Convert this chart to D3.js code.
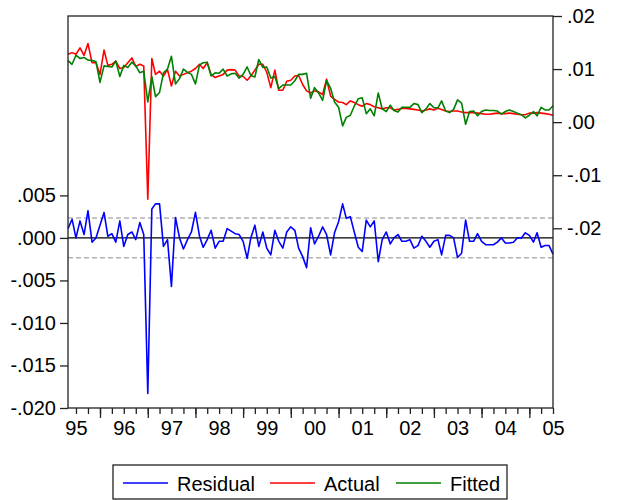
<!DOCTYPE html>
<html><head><meta charset="utf-8">
<script src="https://cdn.jsdelivr.net/npm/d3@7"></script>
<style>
body{margin:0;background:#fff}
svg{display:block}
text{font-family:"Liberation Sans",Arial,sans-serif;fill:#000}
</style>
</head><body>
<svg id="c" width="621" height="500"></svg>
<script>
// ---- data ----
const firstMonth = "1995-05";   // monthly observations
const lastMonth  = "2005-07";
const yearLabels = ["95","96","97","98","99","00","01","02","03","04","05"];
const leftTicks  = [-0.020,-0.015,-0.010,-0.005,0.000,0.005];
const rightTicks = [-0.02,-0.01,0.00,0.01,0.02];
const seriesNames = ["Residual","Actual","Fitted"];
const seriesColors = ["#0000ff","#ff0000","#008000"];
const residualBand = 0.00234; // +/- 1 s.e.

const actual = [
 0.0128,0.0131,0.0128,0.0140,0.0126,0.0148,0.0112,0.0112,0.0090,0.0136,
 0.0107,0.0109,0.0115,0.0101,0.0103,0.0112,0.0121,0.0105,0.0109,0.0106,
 -0.0145,0.0120,0.0090,0.0096,0.0087,0.0099,0.0068,0.0096,0.0087,0.0090,
 0.0093,0.0096,0.0101,0.0109,0.0101,0.0112,0.0090,0.0084,0.0087,0.0090,
 0.0098,0.0099,0.0098,0.0087,0.0086,0.0079,0.0087,0.0098,0.0109,0.0109,
 0.0094,0.0065,0.0098,0.0060,0.0060,0.0077,0.0079,0.0087,0.0088,0.0071,
 0.0059,0.0055,0.0059,0.0057,0.0052,0.0081,0.0049,0.0043,0.0038,0.0037,
 0.0033,0.0040,0.0037,0.0033,0.0030,0.0035,0.0033,0.0029,0.0027,0.0025,
 0.0027,0.0027,0.0023,0.0024,0.0026,0.0026,0.0025,0.0024,0.0023,0.0021,
 0.0023,0.0025,0.0023,0.0026,0.0024,0.0021,0.0020,0.0021,0.0021,0.0019,
 0.0018,0.0018,0.0018,0.0017,0.0016,0.0015,0.0015,0.0016,0.0017,0.0016,
 0.0016,0.0017,0.0016,0.0015,0.0014,0.0014,0.0017,0.0017,0.0018,0.0017,
 0.0016,0.0015,0.0013];

const fitted = [
 0.0116,0.0109,0.0126,0.0120,0.0122,0.0117,0.0116,0.0114,0.0075,0.0106,
 0.0105,0.0104,0.0115,0.0086,0.0107,0.0103,0.0113,0.0106,0.0093,0.0096,
 0.0038,0.0086,0.0048,0.0056,0.0093,0.0100,0.0124,0.0072,0.0082,0.0100,
 0.0094,0.0090,0.0072,0.0108,0.0112,0.0113,0.0087,0.0093,0.0092,0.0100,
 0.0087,0.0091,0.0092,0.0083,0.0090,0.0104,0.0088,0.0085,0.0118,0.0103,
 0.0104,0.0083,0.0086,0.0063,0.0070,0.0070,0.0070,0.0078,0.0090,0.0090,
 0.0092,0.0045,0.0065,0.0055,0.0041,0.0078,0.0064,0.0038,0.0028,-0.0007,
 0.0009,0.0013,0.0030,0.0044,0.0046,0.0016,0.0025,0.0012,0.0055,0.0025,
 0.0020,0.0032,0.0022,0.0019,0.0028,0.0028,0.0028,0.0035,0.0033,0.0018,
 0.0025,0.0035,0.0027,0.0027,0.0040,0.0021,0.0018,0.0024,0.0042,0.0036,
 -0.0004,0.0020,0.0021,0.0012,0.0020,0.0023,0.0022,0.0022,0.0021,0.0015,
 0.0020,0.0023,0.0020,0.0017,0.0014,0.0008,0.0013,0.0020,0.0012,0.0028,
 0.0023,0.0023,0.0031];

const residual = [
 0.0011,0.0022,0.0000,0.0020,0.0004,0.0032,-0.0005,0.0000,0.0015,0.0030,
 0.0002,0.0005,-0.0005,0.0020,-0.0010,0.0004,0.0007,-0.0002,0.0018,0.0004,
 -0.0183,0.0034,0.0040,0.0040,-0.0010,-0.0002,-0.0057,0.0024,0.0000,-0.0013,
 -0.0002,0.0007,0.0030,0.0002,-0.0011,-0.0002,0.0009,-0.0012,-0.0004,-0.0004,
 0.0011,0.0008,0.0005,0.0004,-0.0004,-0.0024,0.0000,0.0015,-0.0010,0.0007,
 -0.0012,-0.0020,0.0009,-0.0004,-0.0012,0.0007,0.0013,0.0009,-0.0012,-0.0022,
 -0.0035,0.0012,-0.0007,0.0002,0.0013,0.0004,-0.0020,0.0006,0.0019,0.0040,
 0.0023,0.0025,0.0007,-0.0011,-0.0016,0.0021,0.0013,0.0020,-0.0028,-0.0002,
 0.0007,-0.0007,0.0000,0.0004,-0.0004,-0.0004,-0.0002,-0.0012,-0.0009,0.0002,
 -0.0004,-0.0011,-0.0004,-0.0002,-0.0020,0.0003,0.0003,0.0000,-0.0023,-0.0018,
 0.0021,-0.0004,-0.0004,0.0005,-0.0004,-0.0008,-0.0008,-0.0008,-0.0005,0.0000,
 -0.0006,-0.0006,-0.0005,0.0000,0.0000,0.0006,0.0003,-0.0005,0.0006,-0.0011,
 -0.0009,-0.0009,-0.0019];

// ---- chart ----
const svg = d3.select("#c");
svg.append("rect").attr("width",621).attr("height",500).attr("fill","#fff");

const L = 68, R = 553, T = 16, B = 408;
const parseM = d3.timeParse("%Y-%m");
const months = d3.timeMonths(parseM(firstMonth), d3.timeMonth.offset(parseM(lastMonth),1));

const x = d3.scaleTime().domain([months[0], months[months.length-1]]).range([L, R]);
const yL = d3.scaleLinear().domain([-0.020, 0.005]).range([B, 195.4]);
const yR = d3.scaleLinear().domain([-0.02, 0.02]).range([228.3, T]);

const fmtL = v => { const s = Math.abs(v).toFixed(3).replace(/^0/,""); return (v < -1e-9 ? "-" : "") + s; };
const fmtR = v => { const s = Math.abs(v).toFixed(2).replace(/^0/,""); return (v < -1e-9 ? "-" : "") + s; };

// residual band lines
[residualBand, -residualBand].forEach(v => {
  svg.append("line").attr("x1",L).attr("x2",R).attr("y1",yL(v)).attr("y2",yL(v))
    .attr("stroke","#8c8c8c").attr("stroke-width",1).attr("stroke-dasharray","5,3");
});
// zero line
svg.append("line").attr("x1",L).attr("x2",R).attr("y1",yL(0)).attr("y2",yL(0))
  .attr("stroke","#000").attr("stroke-width",1.4);

const lineL = d3.line().x((d,i)=>x(months[i])).y(d=>yL(d));
const lineR = d3.line().x((d,i)=>x(months[i])).y(d=>yR(d));

svg.append("path").datum(actual).attr("d",lineR).attr("fill","none")
  .attr("stroke",seriesColors[1]).attr("stroke-width",1.6).attr("stroke-linejoin","round");
svg.append("path").datum(fitted).attr("d",lineR).attr("fill","none")
  .attr("stroke",seriesColors[2]).attr("stroke-width",1.6).attr("stroke-linejoin","round");
svg.append("path").datum(residual).attr("d",lineL).attr("fill","none")
  .attr("stroke",seriesColors[0]).attr("stroke-width",1.6).attr("stroke-linejoin","round");

// frame
svg.append("rect").attr("x",L).attr("y",T).attr("width",R-L).attr("height",B-T)
  .attr("fill","none").attr("stroke","#222").attr("stroke-width",1.3);

// left axis
const gL = svg.append("g").attr("transform",`translate(${L},0)`)
  .call(d3.axisLeft(yL).tickValues(leftTicks).tickFormat(fmtL).tickSize(8).tickPadding(4));
gL.select(".domain").remove();
gL.selectAll("line").attr("stroke","#222").attr("stroke-width",1.3);
gL.selectAll("text").attr("font-size",20).attr("font-family","Liberation Sans, Arial, sans-serif");

// right axis
const gR = svg.append("g").attr("transform",`translate(${R},0)`)
  .call(d3.axisRight(yR).tickValues(rightTicks).tickFormat(fmtR).tickSize(9).tickPadding(5));
gR.select(".domain").remove();
gR.selectAll("line").attr("stroke","#222").attr("stroke-width",1.3);
gR.selectAll("text").attr("font-size",20).attr("font-family","Liberation Sans, Arial, sans-serif");

// bottom axis: quarter ticks, year ticks, year labels
const quarters = months.filter(m => m.getMonth() % 3 === 0);
const jans = months.filter(m => m.getMonth() === 0);
const julys = months.filter(m => m.getMonth() === 6);

const gQ = svg.append("g").attr("transform",`translate(0,${B})`)
  .call(d3.axisBottom(x).tickValues(quarters).tickFormat("").tickSize(6));
gQ.select(".domain").remove();
gQ.selectAll("line").attr("stroke","#222").attr("stroke-width",1.3);

const gJ = svg.append("g").attr("transform",`translate(0,${B})`)
  .call(d3.axisBottom(x).tickValues(jans).tickFormat("").tickSize(10));
gJ.select(".domain").remove();
gJ.selectAll("line").attr("stroke","#222").attr("stroke-width",1.3);

const gY = svg.append("g").attr("transform",`translate(0,${B})`)
  .call(d3.axisBottom(x).tickValues(julys).tickFormat((d,i)=>yearLabels[i]).tickSize(0).tickPadding(13));
gY.select(".domain").remove();
gY.selectAll("text").attr("font-size",20).attr("font-family","Liberation Sans, Arial, sans-serif");

// legend
const lg = svg.append("g");
lg.append("rect").attr("x",113).attr("y",465).attr("width",394).attr("height",34)
  .attr("fill","#fff").attr("stroke","#222").attr("stroke-width",1.3);
const legX = [123, 270, 396];
seriesNames.forEach((n,i) => {
  lg.append("line").attr("x1",legX[i]).attr("x2",legX[i]+45).attr("y1",483).attr("y2",483)
    .attr("stroke",seriesColors[i]).attr("stroke-width",1.3);
  lg.append("text").attr("x",legX[i]+54).attr("y",490.5).attr("font-size",20).text(n);
});
</script>
</body></html>
